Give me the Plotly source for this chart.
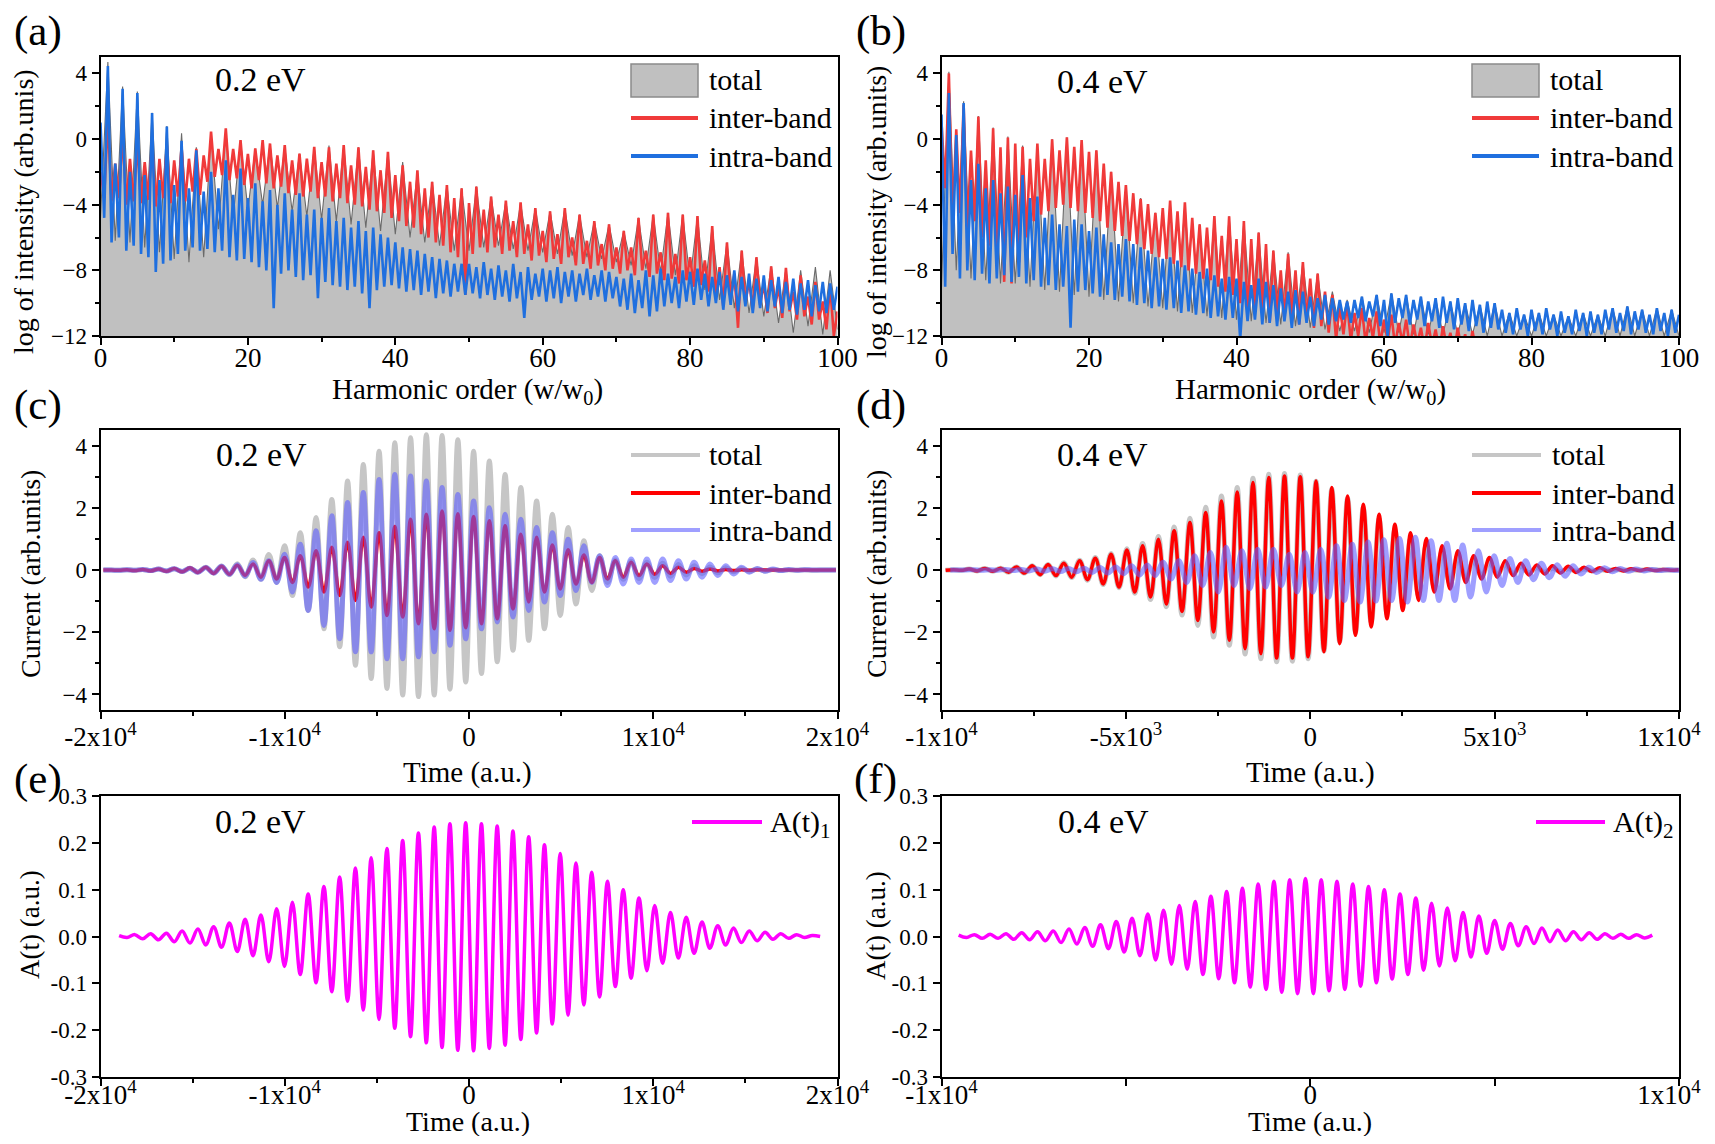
"""
HHG spectra, currents and vector potentials for 0.2 eV and 0.4 eV driving lasers.
Six panels (a)-(f) rebuilt with plotly.
"""

import numpy as np
import plotly.graph_objects as go

# ── Spectra (a) 0.2 eV ────────────────────────────────────────────────────────
# peaks at integer harmonic orders 0..100, dips at half orders 0.5..99.5
A_INTER_PK = [-2.0, 1.2, -1.5, 0.3, -1.2, -0.3, -1.4, -0.2, -1.2, -0.4,
              -1.3, -0.5, -1.2, -0.6, -1.0, 0.45, -0.6, 0.66, -0.6, -0.06,
              -0.9, -0.57, -0.06, -0.27, -1.0, -0.37, -1.3, -0.88, -1.2, -0.47,
              -1.4, -0.5, -1.5, -0.37, -1.6, -0.5, -1.7, -0.68, -1.9, -0.78,
              -2.2, -1.6, -2.6, -1.9, -3.0, -2.6, -3.4, -2.8, -3.6, -3.0,
              -3.9, -2.9, -4.3, -3.5, -4.6, -3.75, -5.0, -3.86, -5.2, -4.2,
              -5.6, -4.4, -5.8, -4.2, -6.0, -4.6, -6.2, -5.0, -6.4, -5.2,
              -6.6, -5.6, -6.6, -4.8, -6.8, -4.6, -6.9, -4.5, -7.0, -4.6,
              -7.2, -4.7, -7.4, -5.3, -7.8, -6.3, -8.2, -6.8, -8.6, -7.2,
              -8.8, -7.75, -9.0, -7.85, -9.3, -8.3, -9.6, -8.7, -9.9, -8.9,
              -10.5]
A_INTER_DIP = [-3.5, -3.8, -3.6, -4.0, -3.8, -3.9, -3.7, -4.1, -3.6, -3.9,
               -3.5, -3.8, -3.2, -3.4, -2.6, -2.3, -2.2, -2.5, -2.4, -2.8,
               -3.0, -2.5, -2.7, -3.0, -2.9, -3.3, -3.4, -3.5, -3.2, -3.6,
               -3.5, -3.8, -3.6, -3.9, -4.0, -4.1, -4.3, -4.4, -4.5, -4.8,
               -5.0, -5.3, -5.4, -5.8, -6.0, -6.3, -6.5, -6.9, -7.2, -9.5,
               -7.0, -6.6, -6.9, -6.6, -7.0, -6.8, -7.2, -7.0, -7.4, -7.1,
               -7.5, -7.3, -7.6, -7.2, -7.7, -7.6, -7.9, -7.7, -8.0, -7.9,
               -8.2, -8.0, -8.3, -8.0, -8.4, -8.2, -8.6, -8.5, -8.8, -8.6,
               -9.0, -8.9, -9.3, -9.5, -10.2, -9.8, -11.5, -10.0, -10.4, -10.1,
               -10.6, -10.3, -10.9, -10.5, -11.0, -10.8, -11.3, -11.0, -11.6, -12.0]
A_INTRA_PK = [1.0, 4.45, -1.5, 3.06, -2.0, 2.81, -2.2, 1.58, -2.5, 0.76,
              -2.8, -0.1, -3.0, -0.68, -3.2, -2.0, -3.0, -1.3, -3.4, -1.8,
              -3.6, -2.7, -3.8, -3.1, -4.0, -3.3, -4.3, -3.3, -4.6, -4.3,
              -4.8, -4.2, -5.0, -4.8, -5.4, -5.0, -5.6, -5.4, -5.8, -6.0,
              -6.3, -6.6, -6.7, -6.8, -7.0, -7.2, -7.3, -7.4, -7.6, -7.6,
              -7.6, -7.8, -7.5, -7.9, -7.7, -8.0, -7.6, -8.1, -7.8, -8.2,
              -7.9, -8.0, -7.8, -8.1, -8.0, -8.2, -7.9, -8.3, -8.0, -8.1,
              -8.4, -8.5, -8.2, -8.6, -8.0, -8.3, -7.9, -8.2, -8.4, -8.0,
              -8.1, -7.9, -8.2, -8.4, -8.1, -8.3, -8.0, -8.4, -8.2, -8.5,
              -8.3, -8.6, -8.4, -8.7, -8.5, -8.8, -8.6, -8.9, -8.7, -8.8,
              -9.0]
A_INTRA_DIP = [-4.8, -6.3, -6.0, -6.8, -6.5, -7.0, -7.2, -8.1, -7.6, -7.4,
               -7.0, -6.8, -6.6, -6.8, -6.7, -6.9, -6.8, -7.2, -7.4, -7.3,
               -7.5, -7.8, -8.0, -10.3, -8.2, -8.0, -8.4, -8.6, -8.3, -9.7,
               -8.7, -8.9, -9.0, -9.2, -9.0, -9.4, -10.3, -9.2, -9.0, -8.9,
               -9.1, -9.3, -9.2, -9.5, -9.3, -9.7, -9.4, -9.6, -9.3, -9.5,
               -9.4, -9.7, -9.5, -9.8, -9.6, -9.9, -9.7, -10.9, -9.8, -9.6,
               -9.9, -9.7, -10.0, -9.6, -9.9, -9.5, -9.8, -9.6, -9.9, -9.7,
               -10.2, -10.4, -10.6, -10.3, -10.8, -10.5, -10.2, -10.0, -10.3, -9.9,
               -10.1, -9.8, -10.2, -10.0, -10.4, -10.1, -10.5, -10.2, -10.6, -10.3,
               -10.5, -10.2, -10.6, -10.4, -10.7, -10.4, -10.8, -10.5, -10.6, -10.4]
# total, one value per integer harmonic order
A_TOTAL = [-4.8, 4.7, -6.2, 3.2, -6.3, 2.9, -6.6, 1.6, -6.9, 0.8,
           -7.3, 0.35, -7.5, -0.5, -7.2, 0.3, -5.5, 0.6, -4.8, -0.1,
           -4.3, -0.6, -4.0, -0.3, -4.2, -0.45, -4.4, -0.9, -4.7, -0.5,
           -4.9, -0.4, -5.0, -0.4, -5.2, -0.5, -5.4, -0.7, -5.6, -0.8,
           -5.8, -1.4, -6.0, -2.0, -6.3, -2.6, -6.5, -2.8, -6.8, -3.0,
           -6.8, -2.9, -6.6, -3.5, -6.5, -3.8, -6.7, -3.9, -6.8, -4.2,
           -6.9, -4.4, -7.0, -4.2, -7.1, -4.6, -7.2, -5.0, -7.3, -5.2,
           -7.5, -5.6, -7.7, -4.8, -7.9, -4.6, -8.1, -4.5, -8.3, -4.6,
           -8.6, -4.7, -9.2, -5.3, -9.8, -6.3, -10.3, -6.8, -10.6, -7.2,
           -10.8, -7.75, -11.2, -7.9, -11.8, -8.0, -11.4, -7.8, -11.9, -8.0,
           -11.6]

# ── Spectra (b) 0.4 eV ────────────────────────────────────────────────────────
B_INTER_PK = [1.0, 4.0, 0.6, 2.1, -0.7, 1.37, -1.3, 0.66, -0.5, 0.1,
              -0.27, -0.47, -1.2, -0.27, -1.2, -0.02, -0.68, 0.1, -0.47, -0.06,
              -0.78, -0.68, -1.5, -2.0, -2.6, -2.8, -3.3, -3.65, -3.96, -4.5,
              -4.2, -3.75, -4.4, -3.86, -4.8, -5.2, -5.4, -4.7, -5.9, -4.7,
              -6.1, -5.0, -6.1, -5.7, -6.4, -6.8, -8.0, -7.0, -8.0, -7.5,
              -8.5, -8.2, -9.3, -9.5, -10.2, -10.0, -10.6, -10.3, -10.9, -10.5,
              -11.0, -10.7, -11.2, -11.0, -11.3, -11.5, -11.2, -11.6, -11.4, -11.8,
              -11.5, -11.9, -11.7, -12.2, -12.5, -12.6, -12.5, -12.7, -12.6, -12.8,
              -12.7, -12.8, -12.9, -12.8, -13.0, -12.9, -13.0, -12.9, -13.0, -13.1,
              -13.0, -13.1, -13.2, -13.1, -13.2, -13.3, -13.2, -13.3, -13.4, -13.3,
              -13.4]
B_INTER_DIP = [-3.0, -5.0, -4.5, -5.5, -5.0, -6.0, -6.5, -7.0, -8.7, -8.8,
               -7.5, -6.0, -5.0, -4.6, -4.4, -4.2, -4.0, -4.2, -4.4, -4.5,
               -4.8, -5.0, -5.4, -5.6, -5.9, -6.2, -6.4, -6.7, -7.0, -7.2,
               -7.3, -7.6, -7.8, -8.0, -8.2, -8.5, -8.6, -9.0, -9.3, -9.5,
               -10.0, -10.8, -10.3, -10.6, -11.2, -10.8, -11.0, -10.9, -11.3, -11.1,
               -11.5, -11.4, -11.8, -12.2, -11.9, -12.3, -12.0, -12.4, -12.1, -12.5,
               -12.3, -12.6, -12.4, -12.7, -12.5, -12.8, -12.6, -12.9, -12.7, -13.0,
               -12.8, -13.0, -12.9, -13.1, -13.0, -13.2, -13.1, -13.2, -13.3, -13.2,
               -13.3, -13.4, -13.3, -13.4, -13.5, -13.4, -13.5, -13.6, -13.5, -13.6,
               -13.7, -13.6, -13.7, -13.8, -13.7, -13.8, -13.9, -13.8, -13.9, -14.0]
B_INTRA_PK = [1.5, 2.8, 0.25, 2.2, -2.5, -1.5, -3.0, -2.5, -3.3, -2.9,
              -3.4, -2.2, -3.6, -3.5, -4.8, -4.6, -5.2, -5.3, -4.9, -5.2,
              -5.6, -5.4, -5.8, -6.3, -6.4, -6.1, -6.4, -6.6, -6.8, -7.2,
              -7.3, -7.2, -7.4, -7.7, -7.9, -8.1, -7.9, -8.3, -8.5, -8.4,
              -8.5, -8.7, -8.9, -8.5, -8.7, -8.9, -9.1, -9.3, -9.2, -9.3,
              -9.6, -9.7, -9.5, -9.7, -9.8, -9.9, -9.8, -9.6, -9.9, -9.5,
              -9.8, -9.4, -9.7, -9.5, -9.8, -9.6, -9.9, -9.7, -9.6, -9.9,
              -9.7, -10.0, -9.8, -10.1, -9.9, -10.0, -10.4, -10.6, -10.3, -10.7,
              -10.4, -10.6, -10.3, -10.7, -10.5, -10.8, -10.4, -10.6, -10.5, -10.7,
              -10.4, -10.3, -10.6, -10.2, -10.5, -10.4, -10.7, -10.3, -10.6, -10.4,
              -10.7]
B_INTRA_DIP = [-9.0, -7.0, -8.5, -8.0, -8.6, -8.2, -8.8, -8.5, -8.3, -8.7,
               -8.4, -8.8, -8.6, -9.0, -8.9, -9.2, -9.0, -11.5, -9.3, -9.2,
               -9.4, -9.6, -9.5, -9.8, -9.6, -9.9, -10.1, -10.0, -10.3, -10.2,
               -10.4, -10.3, -10.6, -10.5, -10.7, -10.6, -10.9, -10.8, -11.0, -10.9,
               -12.2, -11.1, -11.0, -11.3, -11.2, -11.4, -11.1, -11.5, -11.3, -11.2,
               -11.4, -11.0, -11.3, -11.1, -11.0, -11.2, -10.9, -11.1, -10.8, -11.4,
               -12.0, -11.2, -10.9, -11.3, -11.0, -11.4, -11.1, -11.5, -11.2, -11.6,
               -11.3, -11.7, -11.4, -11.8, -11.5, -11.6, -11.8, -11.9, -11.6, -12.0,
               -11.7, -11.9, -11.6, -12.0, -11.8, -11.9, -11.7, -12.0, -11.8, -11.9,
               -11.6, -11.8, -11.7, -11.9, -11.6, -11.8, -11.9, -11.7, -12.0, -11.8]
B_TOTAL = [-9.0, 4.1, -8.0, 2.3, -8.5, 1.4, -8.6, 0.7, -8.8, 0.15,
           -8.8, -0.4, -9.0, -0.3, -9.2, 0.0, -9.3, 0.1, -9.5, -0.1,
           -9.6, -0.7, -9.8, -2.0, -9.9, -2.8, -10.0, -3.6, -10.2, -4.5,
           -10.3, -3.8, -10.5, -3.9, -10.6, -5.2, -10.8, -4.7, -10.9, -4.7,
           -11.0, -5.0, -11.1, -5.7, -11.2, -6.8, -11.3, -6.9, -11.4, -7.5,
           -11.5, -8.2, -11.6, -9.3, -11.7, -9.8, -11.7, -9.6, -11.8, -9.5,
           -11.8, -9.4, -11.8, -9.5, -11.9, -9.6, -11.9, -9.7, -11.9, -9.9,
           -11.9, -10.0, -11.9, -10.1, -12.0, -10.0, -12.0, -10.6, -12.0, -10.7,
           -12.0, -10.6, -12.0, -10.7, -12.0, -10.8, -12.0, -10.6, -12.0, -10.7,
           -12.0, -10.3, -12.0, -10.2, -12.0, -10.4, -12.0, -10.3, -12.0, -10.4,
           -12.0]

# ── Currents: extrema, one per half cycle ─────────────────────────────────────
HALF_02 = 427.5    # a.u., half optical cycle at 0.2 eV
HALF_04 = 213.75   # a.u., half optical cycle at 0.4 eV
C_T0, D_T0, D_T0_INTRA = 250.0, 157.0, 285.0
C_K0, D_K0 = -47, -47

C_TOTAL = [0.0, 0.0, -0.01, 0.01, -0.01, 0.02, -0.02, 0.03, -0.03, 0.04,
           -0.05, 0.06, -0.07, 0.09, -0.1, 0.13, -0.15, 0.2, -0.22, 0.32,
           -0.3, 0.5, -0.4, 0.78, -0.82, 1.2, -1.3, 1.69, -1.89, 2.27,
           -2.47, 2.86, -3.06, 3.39, -3.49, 3.82, -3.81, 4.09, -4.02, 4.25,
           -4.07, 4.35, -4.02, 4.32, -3.83, 4.19, -3.6, 3.82, -3.33, 3.5,
           -2.95, 3.07, -2.58, 2.65, -2.26, 2.22, -1.89, 1.79, -1.46, 1.37,
           -1.09, 0.94, -0.66, 0.46, -0.4, 0.32, -0.3, 0.28, -0.27, 0.25,
           -0.24, 0.22, -0.2, 0.18, -0.16, 0.14, -0.12, 0.1, -0.09, 0.07,
           -0.06, 0.05, -0.04, 0.03, -0.03, 0.02, -0.02, 0.01, -0.01, 0.01,
           -0.01, 0.0, 0.0, 0.0]
C_INTER = [0.0, 0.0, -0.01, 0.01, -0.02, 0.02, -0.03, 0.03, -0.04, 0.05,
           -0.06, 0.07, -0.08, 0.09, -0.11, 0.12, -0.14, 0.15, -0.17, 0.19,
           -0.23, 0.3, -0.29, 0.4, -0.4, 0.46, -0.55, 0.62, -0.71, 0.73,
           -0.82, 0.89, -0.98, 1.05, -1.19, 1.2, -1.46, 1.4, -1.51, 1.63,
           -1.73, 1.79, -1.89, 1.9, -1.94, 1.81, -1.86, 1.72, -1.73, 1.58,
           -1.57, 1.42, -1.25, 1.15, -1.03, 1.05, -0.71, 0.8, -0.61, 0.65,
           -0.45, 0.48, -0.4, 0.4, -0.29, 0.3, -0.23, 0.25, -0.18, 0.19,
           -0.14, 0.14, -0.11, 0.09, -0.07, 0.05, -0.04, 0.03, -0.03, 0.02,
           -0.02, 0.01, -0.01, 0.01, 0.0, 0.0, 0.0, 0.0, 0.0, 0.0,
           0.0, 0.0, 0.0, 0.0]
C_INTRA = [0.0, 0.0, -0.01, 0.01, -0.01, 0.02, -0.02, 0.03, -0.03, 0.04,
           -0.05, 0.06, -0.07, 0.08, -0.1, 0.12, -0.14, 0.17, -0.2, 0.24,
           -0.3, 0.3, -0.4, 0.51, -0.71, 0.83, -1.3, 1.26, -1.78, 1.74,
           -2.21, 2.17, -2.63, 2.49, -2.63, 2.91, -2.85, 3.07, -2.85, 3.02,
           -2.79, 2.86, -2.63, 2.65, -2.42, 2.43, -2.21, 2.22, -1.89, 2.0,
           -1.67, 1.79, -1.51, 1.63, -1.3, 1.37, -1.03, 1.2, -0.82, 0.99,
           -0.66, 0.78, -0.4, 0.46, -0.5, 0.4, -0.45, 0.35, -0.4, 0.35,
           -0.4, 0.35, -0.34, 0.3, -0.29, 0.25, -0.23, 0.19, -0.18, 0.14,
           -0.13, 0.09, -0.07, 0.05, -0.04, 0.03, -0.02, 0.02, -0.01, 0.01,
           0.0, 0.0, 0.0, 0.0]

D_TOTAL = [-0.01, 0.01, -0.01, 0.03, -0.03, 0.05, -0.04, 0.06, -0.07, 0.1,
           -0.1, 0.14, -0.15, 0.18, -0.19, 0.23, -0.24, 0.31, -0.33, 0.4,
           -0.47, 0.53, -0.57, 0.68, -0.75, 0.85, -0.95, 1.08, -1.18, 1.38,
           -1.45, 1.66, -1.78, 2.02, -2.15, 2.38, -2.42, 2.65, -2.7, 2.95,
           -2.85, 3.08, -2.95, 3.1, -2.93, 3.05, -2.85, 2.85, -2.6, 2.6,
           -2.3, 2.3, -2.0, 2.0, -1.7, 1.65, -1.4, 1.3, -1.1, 1.0,
           -0.8, 0.8, -0.55, 0.6, -0.45, 0.45, -0.3, 0.32, -0.2, 0.25,
           -0.15, 0.18, -0.12, 0.12, -0.1, 0.08, -0.07, 0.06, -0.05, 0.04,
           -0.04, 0.03, -0.03, 0.02, -0.02, 0.02, -0.01, 0.01, -0.01, 0.01,
           0.0, 0.0, 0.0, 0.0]
D_INTER = [-0.01, 0.01, -0.01, 0.03, -0.03, 0.05, -0.04, 0.06, -0.07, 0.1,
           -0.1, 0.14, -0.15, 0.18, -0.18, 0.22, -0.23, 0.3, -0.31, 0.38,
           -0.45, 0.51, -0.55, 0.64, -0.71, 0.78, -0.87, 0.99, -1.09, 1.26,
           -1.33, 1.53, -1.62, 1.85, -1.99, 2.22, -2.26, 2.51, -2.53, 2.81,
           -2.69, 2.97, -2.83, 3.02, -2.83, 3.0, -2.79, 2.86, -2.63, 2.65,
           -2.37, 2.38, -2.1, 2.11, -1.83, 1.79, -1.57, 1.47, -1.3, 1.2,
           -0.98, 1.01, -0.71, 0.78, -0.61, 0.62, -0.4, 0.46, -0.29, 0.4,
           -0.23, 0.3, -0.18, 0.22, -0.16, 0.16, -0.13, 0.14, -0.1, 0.12,
           -0.08, 0.09, -0.05, 0.07, -0.04, 0.05, -0.03, 0.04, -0.02, 0.03,
           -0.02, 0.02, -0.01, 0.01]
D_INTRA = [0.0, 0.0, 0.0, 0.01, -0.01, 0.01, -0.01, 0.02, -0.02, 0.02,
           -0.03, 0.03, -0.04, 0.04, -0.05, 0.05, -0.06, 0.06, -0.08, 0.08,
           -0.1, 0.1, -0.12, 0.14, -0.16, 0.16, -0.18, 0.25, -0.29, 0.3,
           -0.4, 0.46, -0.5, 0.56, -0.71, 0.73, -0.5, 0.62, -0.6, 0.67,
           -0.55, 0.67, -0.5, 0.51, -0.71, 0.56, -0.71, 0.67, -0.87, 0.78,
           -0.98, 0.83, -1.03, 0.9, -1.0, 0.97, -0.98, 1.01, -1.03, 1.05,
           -0.98, 0.94, -0.98, 0.86, -0.98, 0.8, -0.87, 0.62, -0.71, 0.46,
           -0.5, 0.37, -0.4, 0.3, -0.31, 0.22, -0.25, 0.17, -0.2, 0.14,
           -0.13, 0.09, -0.08, 0.07, -0.06, 0.05, -0.04, 0.03, -0.03, 0.02,
           -0.02, 0.01, -0.01, 0.0]

# ── Vector potentials: extrema, one per half cycle ────────────────────────────
E_T0, E_K0 = -180.0, -44
F_T0, F_K0 = -130.0, -44
E_A1 = [0.002, -0.002, 0.004, -0.005, 0.006, -0.007, 0.007, -0.011, 0.012, -0.014,
        0.016, -0.018, 0.021, -0.023, 0.029, -0.032, 0.037, -0.041, 0.046, -0.054,
        0.059, -0.064, 0.073, -0.081, 0.091, -0.099, 0.107, -0.118, 0.127, -0.138,
        0.146, -0.157, 0.168, -0.177, 0.188, -0.196, 0.205, -0.214, 0.221, -0.227,
        0.234, -0.237, 0.241, -0.243, 0.243, -0.244, 0.241, -0.239, 0.236, -0.232,
        0.225, -0.22, 0.213, -0.206, 0.196, -0.187, 0.177, -0.168, 0.157, -0.146,
        0.137, -0.129, 0.118, -0.107, 0.1, -0.089, 0.082, -0.073, 0.066, -0.057,
        0.051, -0.046, 0.041, -0.036, 0.031, -0.025, 0.023, -0.018, 0.018, -0.013,
        0.012, -0.009, 0.009, -0.006, 0.006, -0.004, 0.004, -0.002, 0.002, 0.0]
F_A2 = [0.003, -0.002, 0.004, -0.004, 0.005, -0.004, 0.006, -0.006, 0.008, -0.007,
        0.01, -0.009, 0.012, -0.013, 0.016, -0.016, 0.019, -0.021, 0.025, -0.026,
        0.032, -0.033, 0.039, -0.041, 0.048, -0.05, 0.056, -0.059, 0.066, -0.07,
        0.075, -0.081, 0.086, -0.09, 0.096, -0.099, 0.103, -0.108, 0.112, -0.113,
        0.118, -0.119, 0.121, -0.122, 0.124, -0.122, 0.121, -0.116, 0.118, -0.113,
        0.112, -0.106, 0.107, -0.099, 0.1, -0.091, 0.091, -0.081, 0.082, -0.072,
        0.071, -0.063, 0.061, -0.052, 0.051, -0.044, 0.044, -0.036, 0.034, -0.027,
        0.028, -0.02, 0.021, -0.015, 0.018, -0.011, 0.014, -0.009, 0.01, -0.007,
        0.008, -0.006, 0.006, -0.004, 0.005, -0.004, 0.004, -0.003, 0.003]

# ── Axis ticks ────────────────────────────────────────────────────────────────
NB = "\u00a0" * 3            # nudges the right-most label inside the page
T20_VALS = [-2e4, -1e4, 0, 1e4, 2e4]
T20_TEXT = ["-2x10<sup>4</sup>", "-1x10<sup>4</sup>", "0", "1x10<sup>4</sup>", "2x10<sup>4</sup>"]
T10_VALS = [-1e4, -5e3, 0, 5e3, 1e4]
T10_TEXT = ["-1x10<sup>4</sup>", "-5x10<sup>3</sup>", "0", "5x10<sup>3</sup>", "1x10<sup>4</sup>" + NB]
TF_VALS = [-1e4, 0, 1e4]
TF_TEXT = ["-1x10<sup>4</sup>", "0", "1x10<sup>4</sup>" + NB]
A_VALS = [-0.3, -0.2, -0.1, 0.0, 0.1, 0.2, 0.3]
A_TEXT = ["-0.3", "-0.2", "-0.1", "0.0", "0.1", "0.2", "0.3"]

# ── Style ─────────────────────────────────────────────────────────────────────
OFF = 8                      # page body margin in the browser
FIG_W, FIG_H = 1715 - 2 * OFF, 1144 - 2 * OFF
FONT = "Liberation Serif"
RED_S, BLUE_S = "#f03a3a", "#1f6fdf"
GRAY_FILL, GRAY_EDGE = "#c0c0c0", "#6a6a6a"
RED_C, BLUE_C, GRAY_C = "#ff0000", "rgba(95,95,255,0.6)", "#c6c6c6"
MAGENTA = "#ff00ff"

# panel frames in window pixels
COLS = [(100.5, 837.5), (941.5, 1679.0)]
ROWS = [(57, 336), (430, 710), (796, 1077)]


def px(x):
    return (x - OFF) / FIG_W


def py(y):
    return 1 - (y - OFF) / FIG_H


def interleave(peaks, dips):
    out = []
    for i, p in enumerate(peaks):
        out.append(p)
        if i < len(dips):
            out.append(dips[i])
    return out


def times(t0, k0, half, n):
    return t0 + (k0 + np.arange(n)) * half


fig = go.Figure()


def spectrum(ax, total, inter_pk, inter_dip, intra_pk, intra_dip):
    xa, ya = ("x", "y") if ax == 1 else (f"x{ax}", f"y{ax}")
    h_int = np.arange(len(total))
    h_half = np.arange(2 * len(inter_pk) - 1) * 0.5
    fig.add_trace(go.Scatter(x=[h_int[0], h_int[-1]], y=[-12, -12], mode="lines",
                             line=dict(width=0), showlegend=False, hoverinfo="skip",
                             xaxis=xa, yaxis=ya))
    fig.add_trace(go.Scatter(x=h_int, y=total, mode="lines", fill="tonexty",
                             fillcolor=GRAY_FILL, line=dict(color=GRAY_EDGE, width=1.1),
                             name="total", showlegend=False, xaxis=xa, yaxis=ya))
    fig.add_trace(go.Scatter(x=h_half, y=interleave(inter_pk, inter_dip), mode="lines",
                             line=dict(color=RED_S, width=2.6), name="inter-band",
                             showlegend=False, xaxis=xa, yaxis=ya))
    fig.add_trace(go.Scatter(x=h_half, y=interleave(intra_pk, intra_dip), mode="lines",
                             line=dict(color=BLUE_S, width=2.6), name="intra-band",
                             showlegend=False, xaxis=xa, yaxis=ya))


def current(ax, t0, k0, half, total, inter, intra, t0_intra):
    xa, ya = f"x{ax}", f"y{ax}"
    spl = dict(shape="spline", smoothing=1.0)
    fig.add_trace(go.Scatter(x=times(t0, k0, half, len(total)), y=total, mode="lines",
                             line=dict(color=GRAY_C, width=5, **spl), name="total",
                             showlegend=False, xaxis=xa, yaxis=ya))
    fig.add_trace(go.Scatter(x=times(t0, k0, half, len(inter)), y=inter, mode="lines",
                             line=dict(color=RED_C, width=3.5, **spl), name="inter-band",
                             showlegend=False, xaxis=xa, yaxis=ya))
    fig.add_trace(go.Scatter(x=times(t0_intra, k0, half, len(intra)), y=intra, mode="lines",
                             line=dict(color=BLUE_C, width=5, **spl), name="intra-band",
                             showlegend=False, xaxis=xa, yaxis=ya))


def potential(ax, t0, k0, half, vals, name):
    fig.add_trace(go.Scatter(x=times(t0, k0, half, len(vals)), y=vals, mode="lines",
                             line=dict(color=MAGENTA, width=3.5, shape="spline", smoothing=1.0),
                             name=name, showlegend=False, xaxis=f"x{ax}", yaxis=f"y{ax}"))


spectrum(1, A_TOTAL, A_INTER_PK, A_INTER_DIP, A_INTRA_PK, A_INTRA_DIP)
spectrum(2, B_TOTAL, B_INTER_PK, B_INTER_DIP, B_INTRA_PK, B_INTRA_DIP)
current(3, C_T0, C_K0, HALF_02, C_TOTAL, C_INTER, C_INTRA, C_T0)
current(4, D_T0, D_K0, HALF_04, D_TOTAL, D_INTER, D_INTRA, D_T0_INTRA)
potential(5, E_T0, E_K0, HALF_02, E_A1, "A(t)1")
potential(6, F_T0, F_K0, HALF_04, F_A2, "A(t)2")

# ── Axes ──────────────────────────────────────────────────────────────────────
frame = dict(showline=True, mirror=True, linecolor="black", linewidth=2,
             ticks="outside", ticklen=7, tickwidth=1.5, tickcolor="black",
             showgrid=False, zeroline=False, automargin=False)

axes_spec = {
    1: dict(col=0, row=0, xr=[0, 100], xt=dict(tickvals=list(range(0, 101, 20))), xm=(10, 4), so=-10,
            yr=[-12, 5], yt=dict(tickvals=[-12, -8, -4, 0, 4]), ym=2),
    2: dict(col=1, row=0, xr=[0, 100], xt=dict(tickvals=list(range(0, 101, 20))), xm=(10, 4), so=-10,
            yr=[-12, 5], yt=dict(tickvals=[-12, -8, -4, 0, 4]), ym=2),
    3: dict(col=0, row=1, xr=[-2e4, 2e4], xt=dict(tickvals=T20_VALS, ticktext=T20_TEXT), xm=(5e3, 4),
            so=-5, yr=[-4.5, 4.5], yt=dict(tickvals=[-4, -2, 0, 2, 4]), ym=1),
    4: dict(col=1, row=1, xr=[-1e4, 1e4], xt=dict(tickvals=T10_VALS, ticktext=T10_TEXT), xm=(2.5e3, 4),
            so=-5, yr=[-4.5, 4.5], yt=dict(tickvals=[-4, -2, 0, 2, 4]), ym=1),
    5: dict(col=0, row=2, xr=[-2e4, 2e4], xt=dict(tickvals=T20_VALS, ticktext=T20_TEXT), xm=(5e3, 4),
            so=-14, yr=[-0.3, 0.3], yt=dict(tickvals=A_VALS, ticktext=A_TEXT), ym=None),
    6: dict(col=1, row=2, xr=[-1e4, 1e4], xt=dict(tickvals=TF_VALS, ticktext=TF_TEXT), xm=(5e3, 7),
            so=-14, yr=[-0.3, 0.3], yt=dict(tickvals=A_VALS, ticktext=A_TEXT), ym=None),
}

layout_axes = {}
for n, s in axes_spec.items():
    x0, x1 = COLS[s["col"]]
    y0, y1 = ROWS[s["row"]]
    xname = "xaxis" if n == 1 else f"xaxis{n}"
    yname = "yaxis" if n == 1 else f"yaxis{n}"
    xa = dict(frame, domain=[px(x0), px(x1)], range=s["xr"], anchor="y" if n == 1 else f"y{n}",
              tickfont=dict(size=27, family=FONT, color="black"), tickmode="array",
              ticklabelstandoff=s["so"], ticklabeloverflow="allow", **s["xt"])
    mdt, mlen = s["xm"]
    xa["minor"] = dict(ticks="outside", ticklen=mlen, tickwidth=1.5, dtick=mdt,
                       tick0=0, tickcolor="black", showgrid=False)
    ya = dict(frame, domain=[py(y1), py(y0)], range=s["yr"], anchor="x" if n == 1 else f"x{n}",
              tickfont=dict(size=23, family=FONT, color="black"), tickmode="array",
              ticklabeloverflow="allow", **s["yt"])
    if s["ym"]:
        ya["minor"] = dict(ticks="outside", ticklen=4, tickwidth=1.5, dtick=s["ym"],
                           tick0=0, tickcolor="black", showgrid=False)
    layout_axes[xname] = xa
    layout_axes[yname] = ya

# ── Text ──────────────────────────────────────────────────────────────────────
ann = []


def text(x, y, s, size, xanchor="center", angle=0):
    ann.append(dict(x=px(x), y=py(y), xref="paper", yref="paper", text=s, showarrow=False,
                    xanchor=xanchor, yanchor="middle", textangle=angle,
                    font=dict(family=FONT, size=size, color="black")))


for lab, (x, y) in {"(a)": (38, 31), "(b)": (881, 31), "(c)": (38, 405),
                    "(d)": (881, 405), "(e)": (38, 779), "(f)": (876, 779)}.items():
    text(x, y, lab, 43)

for (x, y) in [(260, 80), (261, 455), (260, 821)]:
    text(x, y, "0.2 eV", 34)
for (x, y) in [(1102, 82), (1102, 455), (1103, 821)]:
    text(x, y, "0.4 eV", 34)

text(468, 391, "Harmonic order (w/w<sub>0</sub>)", 29)
text(1310, 391, "Harmonic order (w/w<sub>0</sub>)", 29)
text(468, 772, "Time (a.u.)", 29)
text(1310, 772, "Time (a.u.)", 29)
text(468, 1121, "Time (a.u.)", 28)
text(1310, 1121, "Time (a.u.)", 28)
text(24, 212, "log of intensity (arb.unis)", 28, angle=-90)
text(877, 212, "log of intensity (arb.units)", 28, angle=-90)
text(30, 574, "Current (arb.units)", 28, angle=-90)
text(876, 574, "Current (arb.units)", 28, angle=-90)
text(30, 925, "A(t) (a.u.)", 27, angle=-90)
text(876, 925, "A(t) (a.u.)", 27, angle=-90)

# ── Hand-drawn legends ────────────────────────────────────────────────────────
shapes = []


def key_line(x0, x1, y, color, width):
    shapes.append(dict(type="line", xref="paper", yref="paper", x0=px(x0), x1=px(x1),
                       y0=py(y), y1=py(y), line=dict(color=color, width=width)))


def key_box(x0, x1, y0, y1):
    shapes.append(dict(type="rect", xref="paper", yref="paper", x0=px(x0), x1=px(x1),
                       y0=py(y1), y1=py(y0), fillcolor=GRAY_FILL,
                       line=dict(color="#8a8a8a", width=1.5)))


for lx, tx in [(631, 707), (1472, 1548)]:
    key_box(lx, lx + 67, 64, 97)
    key_line(lx, lx + 67, 118, RED_S, 4)
    key_line(lx, lx + 67, 156, BLUE_S, 4)
    text(tx, 80, "total", 30, xanchor="left")
    text(tx, 118, "inter-band", 30, xanchor="left")
    text(tx, 156, "intra-band", 30, xanchor="left")

for lx, tx in [(631, 707), (1472, 1550)]:
    key_line(lx, lx + 69, 455, GRAY_C, 4)
    key_line(lx, lx + 69, 493, RED_C, 4)
    key_line(lx, lx + 69, 530, BLUE_C, 4)
    text(tx, 455, "total", 30, xanchor="left")
    text(tx, 493, "inter-band", 30, xanchor="left")
    text(tx, 530, "intra-band", 30, xanchor="left")

key_line(692, 762, 822, MAGENTA, 4)
text(768, 824, "A(t)<sub>1</sub>", 30, xanchor="left")
key_line(1536, 1605, 822, MAGENTA, 4)
text(1611, 824, "A(t)<sub>2</sub>", 30, xanchor="left")

fig.update_layout(
    width=FIG_W, height=FIG_H,
    margin=dict(l=0, r=0, t=0, b=0, autoexpand=False),
    paper_bgcolor="white", plot_bgcolor="white",
    font=dict(family=FONT, color="black"),
    showlegend=False,
    annotations=ann, shapes=shapes,
    **layout_axes,
)

fig.write_html("out.html")
